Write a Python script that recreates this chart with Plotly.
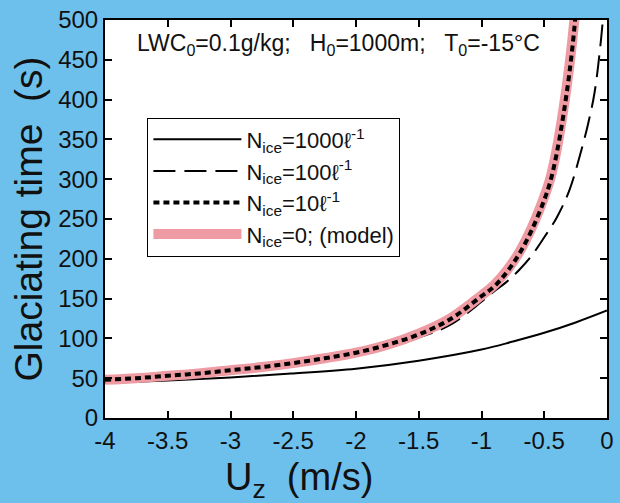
import plotly.graph_objects as go

# ---- data ----
U_1000 = [-4.0, -3.5, -3.0, -2.5, -2.0, -1.5, -1.0, -0.75, -0.5, -0.25, 0.0]
T_1000 = [44, 47, 51, 56, 62, 72, 86, 96, 107, 120, 135]

U_100 = [-4.0, -3.5, -3.0, -2.5, -2.0, -1.75, -1.5, -1.25, -1.0, -0.9, -0.8, -0.7,
         -0.6, -0.5, -0.4, -0.3, -0.2, -0.15, -0.1, -0.05, -0.02]
T_100 = [47, 52, 59, 68, 80, 89, 101, 117, 146, 159, 171, 186,
         204, 227, 252, 286, 339, 370, 408, 472, 525]

U_10 = [-4.0, -3.75, -3.5, -3.25, -3.0, -2.75, -2.5, -2.25, -2.0, -1.75, -1.5, -1.25,
        -1.0, -0.9, -0.8, -0.7, -0.6, -0.5, -0.45, -0.4, -0.35, -0.3, -0.26, -0.24]
T_10 = [48, 50, 53, 56, 60, 64, 69, 75, 82, 92, 105, 124,
        153, 165, 183, 206, 236, 274, 298, 333, 378, 433, 490, 530]

U_model = [-4.0, -3.75, -3.5, -3.25, -3.0, -2.75, -2.5, -2.25, -2.0, -1.75, -1.5, -1.25,
           -1.0, -0.9, -0.8, -0.7, -0.6, -0.5, -0.45, -0.4, -0.35, -0.3, -0.26, -0.24]
T_model = [48, 50, 53, 56, 60, 64, 69, 75, 82, 92, 106, 125,
           154, 167, 185, 208, 239, 278, 302, 338, 385, 442, 500, 540]

names = ["N<sub>ice</sub>=1000\u2113<sup>-1</sup>",
         "N<sub>ice</sub>=100\u2113<sup>-1</sup>",
         "N<sub>ice</sub>=10\u2113<sup>-1</sup>",
         "N<sub>ice</sub>=0; (model)"]

x_ticks = [-4, -3.5, -3, -2.5, -2, -1.5, -1, -0.5, 0]
x_ticklabels = ["-4", "-3.5", "-3", "-2.5", "-2", "-1.5", "-1", "-0.5", "0"]
y_ticks = list(range(0, 501, 50))

BG = "#6EC0EC"
FONT = "Liberation Sans, Arial, sans-serif"

fig = go.Figure()
fig.add_trace(go.Scatter(x=U_1000, y=T_1000, mode="lines", name=names[0], legendrank=1,
                         line=dict(color="black", width=2), line_shape="spline"))
fig.add_trace(go.Scatter(x=U_100, y=T_100, mode="lines", name=names[1], legendrank=2,
                         line=dict(color="black", width=2, dash="22px,9px"), line_shape="spline"))
fig.add_trace(go.Scatter(x=U_model, y=T_model, mode="lines", name=names[3], legendrank=4,
                         line=dict(color="#EE9BA3", width=10), line_shape="spline"))
fig.add_trace(go.Scatter(x=U_10, y=T_10, mode="lines", name=names[2], legendrank=3,
                         line=dict(color="black", width=4, dash="6px,4px"), line_shape="spline"))

fig.update_layout(
    width=620, height=503,
    margin=dict(l=105, r=6, t=17, b=85),
    paper_bgcolor=BG, plot_bgcolor="white",
    font=dict(family=FONT, color="#111"),
    showlegend=True,
    legend=dict(x=0.0845, y=0.755, xanchor="left", yanchor="top",
                bgcolor="white", bordercolor="black", borderwidth=1,
                font=dict(size=22, color="#111"), itemwidth=88, tracegroupgap=0),
    xaxis=dict(range=[-4, 0], tickvals=x_ticks, ticktext=x_ticklabels,
               ticks="inside", ticklen=7, tickwidth=1.5, tickcolor="black",
               showline=True, linecolor="black", linewidth=2, mirror="allticks",
               showgrid=False, zeroline=False, tickfont=dict(size=24, color="#111")),
    yaxis=dict(range=[0, 500], tickvals=y_ticks,
               ticks="inside", ticklen=7, tickwidth=1.5, tickcolor="black",
               showline=True, linecolor="black", linewidth=2, mirror="allticks",
               showgrid=False, zeroline=False, tickfont=dict(size=24, color="#111"),
               title=dict(text="Glaciating time  (s)", font=dict(size=39, color="#111"), standoff=4)),
    annotations=[
        dict(text="LWC<sub>0</sub>=0.1g/kg;   H<sub>0</sub>=1000m;   T<sub>0</sub>=-15\u00b0C",
             xref="paper", yref="paper", x=0.059, y=0.938, xanchor="left", yanchor="middle",
             showarrow=False, font=dict(size=23, color="#111")),
        dict(text="U<sub>z</sub>  (m/s)", xref="paper", yref="paper",
             x=(302 - 105) / 509, y=(418 - 480) / 401, xanchor="center", yanchor="middle",
             showarrow=False, font=dict(size=38, color="#111")),
    ],
)

fig.write_html("out.html")
